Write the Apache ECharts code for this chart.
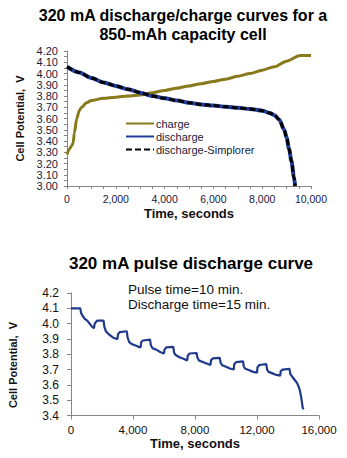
<!DOCTYPE html>
<html>
<head>
<meta charset="utf-8">
<script src="https://cdn.jsdelivr.net/npm/echarts@6/dist/echarts.min.js"></script>
<style>
  html, body { margin: 0; padding: 0; background: #fff; }
  #chart { width: 347px; height: 458px; }
</style>
</head>
<body>
<div id="chart"></div>
<script>
// Continuous charge / discharge at 320 mA (time in seconds, potential in volts)
const chargeTime = [0, 100, 200, 250, 300, 400, 500, 600, 800, 1000, 1500, 2000, 2500, 3000, 3500, 4000, 4500, 5000, 5500, 6000, 6500, 7000, 7500, 8000, 8500, 9000, 9550, 10000];
const chargeVolt = [3.28, 3.33, 3.36, 3.38, 3.47, 3.60, 3.67, 3.70, 3.74, 3.76, 3.78, 3.79, 3.80, 3.81, 3.83, 3.85, 3.87, 3.89, 3.91, 3.93, 3.95, 3.975, 4.00, 4.03, 4.06, 4.11, 4.16, 4.16];

const dischargeTime = [0, 500, 1000, 1500, 2000, 2500, 3000, 3500, 4000, 4500, 5000, 5500, 6000, 6500, 7000, 7500, 8000, 8300, 8500, 8700, 8900, 9000, 9100, 9200, 9300, 9350];
const dischargeVolt = [4.06, 4.01, 3.96, 3.92, 3.89, 3.86, 3.83, 3.80, 3.78, 3.76, 3.74, 3.725, 3.715, 3.705, 3.695, 3.685, 3.67, 3.65, 3.63, 3.59, 3.50, 3.43, 3.33, 3.22, 3.08, 3.00];

// Simulated discharge (Simplorer model)
const simTime = [0, 500, 1000, 1500, 2000, 2500, 3000, 3500, 4000, 4500, 5000, 5500, 6000, 6500, 7000, 7500, 8000, 8300, 8500, 8700, 8900, 9000, 9100, 9200, 9300, 9350];
const simVolt = [4.06, 4.01, 3.96, 3.92, 3.89, 3.86, 3.83, 3.80, 3.78, 3.76, 3.74, 3.725, 3.715, 3.705, 3.695, 3.685, 3.67, 3.65, 3.63, 3.59, 3.50, 3.43, 3.33, 3.22, 3.08, 3.00];

// Pulse discharge: 10 min rest / 15 min discharge
const pulseTime = [0, 600, 650, 750, 900, 1050, 1200, 1350, 1480, 1500, 1530, 1600, 1700, 2100, 2150, 2250, 2450, 2700, 2950, 3000, 3030, 3150, 3600, 3650, 3750, 3950, 4200, 4450, 4500, 4530, 4650, 5100, 5150, 5250, 5500, 5750, 6000, 6030, 6150, 6600, 6650, 6750, 7000, 7250, 7500, 7530, 7650, 8100, 8150, 8250, 8500, 8750, 9000, 9030, 9150, 9600, 9650, 9750, 10000, 10250, 10500, 10530, 10650, 11100, 11150, 11250, 11500, 11750, 12000, 12030, 12150, 12600, 12650, 12750, 13000, 13250, 13500, 13530, 13650, 14100, 14150, 14300, 14450, 14600, 14750, 14850, 14950, 15000];
const pulseVolt = [4.10, 4.10, 4.07, 4.05, 4.03, 4.02, 4.00, 3.98, 3.97, 3.97, 4.00, 4.01, 4.02, 4.02, 3.98, 3.95, 3.93, 3.91, 3.90, 3.90, 3.93, 3.945, 3.95, 3.91, 3.88, 3.865, 3.855, 3.845, 3.85, 3.88, 3.89, 3.895, 3.86, 3.84, 3.83, 3.815, 3.805, 3.83, 3.845, 3.848, 3.81, 3.795, 3.78, 3.77, 3.76, 3.79, 3.805, 3.808, 3.78, 3.76, 3.75, 3.74, 3.73, 3.76, 3.773, 3.776, 3.745, 3.728, 3.718, 3.707, 3.70, 3.735, 3.748, 3.753, 3.72, 3.705, 3.695, 3.685, 3.68, 3.715, 3.73, 3.736, 3.70, 3.685, 3.675, 3.665, 3.66, 3.69, 3.70, 3.705, 3.67, 3.65, 3.63, 3.61, 3.57, 3.52, 3.45, 3.44];

// Axis ranges and tick steps
const topXTicks = { min: 0, max: 10000, step: 2000 };
const topYTicks = { min: 3.0, max: 4.2, step: 0.1 };
const botXTicks = { min: 0, max: 16000, step: 4000 };
const botYTicks = { min: 3.4, max: 4.2, step: 0.1 };

const zip = (xs, ys) => xs.map((x, i) => [x, ys[i]]);
const FONT = 'Liberation Sans, Arial, sans-serif';
const AXIS_GRAY = '#868686';
const LABEL_COLOR = '#1a1a3a';

function valueAxis(t, opts) {
  return Object.assign({
    type: 'value', min: t.min, max: t.max, interval: t.step,
    splitLine: { show: false },
    axisLine: { show: true, lineStyle: { color: AXIS_GRAY, width: 1 } },
    axisTick: { show: true, length: 3, lineStyle: { color: AXIS_GRAY } },
    axisLabel: { fontFamily: FONT, fontSize: 11, color: LABEL_COLOR, margin: 5 },
    nameLocation: 'middle',
    nameTextStyle: { fontFamily: FONT, fontWeight: 'bold', fontSize: 11, color: '#111' }
  }, opts);
}

const chart = echarts.init(document.getElementById('chart'), null, { renderer: 'svg' });

chart.setOption({
  animation: false,
  backgroundColor: '#ffffff',
  graphic: [
    { type: 'text', x: 183, y: 15, style: { text: '320 mA discharge/charge curves for a', font: 'bold 16px ' + FONT, fill: '#000', textAlign: 'center', textVerticalAlign: 'middle' } },
    { type: 'text', x: 183, y: 34, style: { text: '850-mAh capacity cell', font: 'bold 16px ' + FONT, fill: '#000', textAlign: 'center', textVerticalAlign: 'middle' } },
    { type: 'text', x: 191, y: 263, style: { text: '320 mA pulse discharge curve', font: 'bold 17px ' + FONT, fill: '#000', textAlign: 'center', textVerticalAlign: 'middle' } },
    { type: 'text', x: 128, y: 289, style: { text: 'Pulse time=10 min.', font: '13.5px ' + FONT, fill: '#111', textAlign: 'left', textVerticalAlign: 'middle' } },
    { type: 'text', x: 128, y: 304, style: { text: 'Discharge time=15 min.', font: '13.5px ' + FONT, fill: '#111', textAlign: 'left', textVerticalAlign: 'middle' } },
    { type: 'text', x: 13, y: 365, rotation: Math.PI / 2, style: { text: 'Cell Potential,  V', font: 'bold 11px ' + FONT, fill: '#111', textAlign: 'center', textVerticalAlign: 'middle' } }
  ],
  grid: [
    { left: 67, top: 51, width: 244, height: 135 },
    { left: 71, top: 293, width: 248, height: 122.5 }
  ],
  legend: {
    orient: 'vertical', left: 120, top: 113,
    itemWidth: 28, itemHeight: 12, itemGap: 2,
    itemStyle: { opacity: 0 },
    textStyle: { fontFamily: FONT, fontSize: 11, color: LABEL_COLOR, padding: [0, 0, 0, -3] },
    data: ['charge', 'discharge', 'discharge-Simplorer']
  },
  xAxis: [
    valueAxis(topXTicks, {
      gridIndex: 0, name: 'Time, seconds', nameGap: 21,
      nameTextStyle: { fontFamily: FONT, fontWeight: 'bold', fontSize: 13, color: '#111' },
      minorTick: { show: true, splitNumber: 4, length: 3, lineStyle: { color: AXIS_GRAY } },
      axisLabel: { fontFamily: FONT, fontSize: 10.5, color: LABEL_COLOR, margin: 7, formatter: v => v.toLocaleString('en-US') }
    }),
    valueAxis(botXTicks, {
      gridIndex: 1, name: 'Time, seconds', nameGap: 21,
      nameTextStyle: { fontFamily: FONT, fontWeight: 'bold', fontSize: 13, color: '#111' },
      axisTick: { show: true, length: 4, lineStyle: { color: AXIS_GRAY } },
      axisLabel: { fontFamily: FONT, fontSize: 11.5, color: '#111', margin: 8, formatter: v => v.toLocaleString('en-US') }
    })
  ],
  yAxis: [
    valueAxis(topYTicks, {
      gridIndex: 0, name: 'Cell Potential,  V', nameGap: 35,
      minorTick: { show: true, splitNumber: 2, length: 3, lineStyle: { color: AXIS_GRAY } },
      axisLabel: { fontFamily: FONT, fontSize: 11, color: LABEL_COLOR, margin: 9, formatter: v => v.toFixed(2) }
    }),
    valueAxis(botYTicks, {
      gridIndex: 1,
      axisTick: { show: true, length: 4, lineStyle: { color: AXIS_GRAY } },
      axisLabel: { fontFamily: FONT, fontSize: 12, color: '#111', margin: 12, formatter: v => v.toFixed(1) }
    })
  ],
  series: [
    {
      name: 'charge', type: 'line', xAxisIndex: 0, yAxisIndex: 0,
      data: zip(chargeTime, chargeVolt), symbol: 'none', smooth: 0.3, smoothMonotone: 'x',
      lineStyle: { color: '#877a1a', width: 3 }, itemStyle: { color: '#877a1a' }
    },
    {
      name: 'discharge', type: 'line', xAxisIndex: 0, yAxisIndex: 0,
      data: zip(dischargeTime, dischargeVolt), symbol: 'none', smooth: 0.3, smoothMonotone: 'x',
      lineStyle: { color: '#1f3d99', width: 4 }, itemStyle: { color: '#1f3d99' }
    },
    {
      name: 'discharge-Simplorer', type: 'line', xAxisIndex: 0, yAxisIndex: 0,
      data: zip(simTime, simVolt), symbol: 'none', smooth: 0.3, smoothMonotone: 'x',
      lineStyle: { color: '#000', width: 3, type: [6, 3] }, itemStyle: { color: '#000' }
    },
    {
      name: 'pulse', type: 'line', xAxisIndex: 1, yAxisIndex: 1,
      data: zip(pulseTime, pulseVolt), symbol: 'none',
      lineStyle: { color: '#1f3a8c', width: 2.2 }, itemStyle: { color: '#1f3a8c' }
    }
  ]
});
</script>
</body>
</html>
